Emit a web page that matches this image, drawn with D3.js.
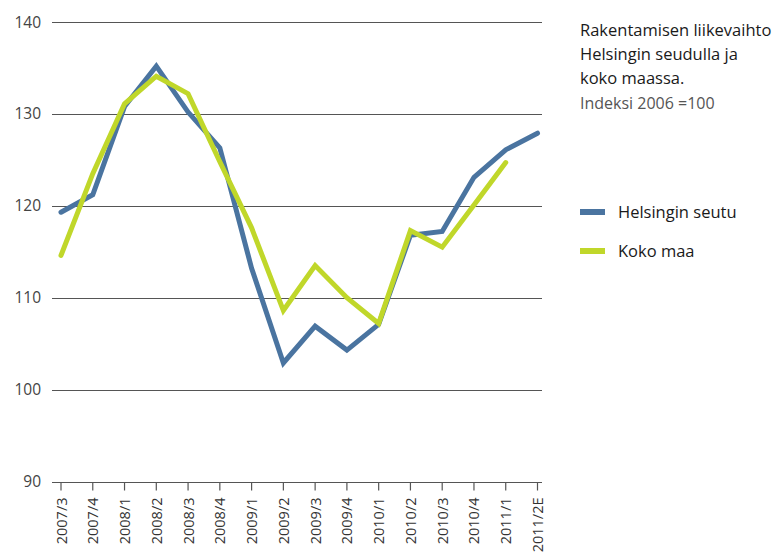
<!DOCTYPE html>
<html>
<head>
<meta charset="utf-8">
<style>
  body { margin: 0; background: #fff; }
  svg text { font-family: "Open Sans", "Noto Sans", sans-serif; }
</style>
</head>
<body>
<svg width="775" height="553"></svg>
<script src="https://cdn.jsdelivr.net/npm/d3@7"></script>
<script>

var categories = ["2007/3", "2007/4", "2008/1", "2008/2", "2008/3", "2008/4", "2009/1", "2009/2",
  "2009/3", "2009/4", "2010/1", "2010/2", "2010/3", "2010/4", "2011/1", "2011/2E"];

var helsinki = [119.3, 121.2, 130.8, 135.2, 130.2, 126.3, 113.2, 102.9,
  106.9, 104.3, 107.1, 116.8, 117.2, 123.1, 126.1, 127.9];

var kokoMaa = [114.6, 123.5, 131.1, 134.1, 132.2, 124.8, 117.6, 108.6,
  113.5, 110.0, 107.2, 117.3, 115.5, 120.1, 124.7, null];

var yTicks = [90, 100, 110, 120, 130, 140];

var titleLines = ["Rakentamisen liikevaihto", "Helsingin seudulla ja", "koko maassa."];
var subtitle = "Indeksi 2006 =100";

var series = [
  {name: "Helsingin seutu", values: helsinki, color: "#4a74a0"},
  {name: "Koko maa", values: kokoMaa, color: "#c0d72a"}
];

var svg = d3.select("svg");

var x = d3.scalePoint().domain(categories).range([61, 537.5]);
var y = d3.scaleLinear().domain([90, 140]).range([481.5, 22]);

var gridLeft = 52, gridRight = 542;

// gridlines
svg.append("g")
  .selectAll("line")
  .data(yTicks)
  .enter().append("line")
    .attr("x1", gridLeft)
    .attr("x2", gridRight)
    .attr("y1", function(d) { return Math.round(y(d)) + 0.5; })
    .attr("y2", function(d) { return Math.round(y(d)) + 0.5; })
    .attr("stroke", "#555")
    .attr("stroke-width", 1.2);

// y labels
svg.append("g")
  .selectAll("text")
  .data(yTicks)
  .enter().append("text")
    .attr("x", 41)
    .attr("y", function(d) { return y(d) + 5.5; })
    .attr("text-anchor", "end")
    .attr("fill", "#444")
    .style("font-size", "15.5px")
    .text(function(d) { return d; });

// x axis ticks + labels
var xAxis = svg.append("g")
  .attr("transform", "translate(0," + (Math.round(y(90)) + 0.5) + ")");

xAxis.selectAll("line")
  .data(categories)
  .enter().append("line")
    .attr("x1", function(d) { return x(d); })
    .attr("x2", function(d) { return x(d); })
    .attr("y1", 0)
    .attr("y2", 8)
    .attr("stroke", "#555")
    .attr("stroke-width", 1.2);

xAxis.selectAll("text")
  .data(categories)
  .enter().append("text")
    .attr("transform", function(d) { return "translate(" + (x(d) + 5.5) + ",15) rotate(-90)"; })
    .attr("text-anchor", "end")
    .attr("fill", "#333")
    .style("font-size", "14.5px")
    .text(function(d) { return d; });

// lines
var line = d3.line()
  .defined(function(d) { return d.v != null; })
  .x(function(d) { return x(d.c); })
  .y(function(d) { return y(d.v); });

svg.append("g")
  .selectAll("path")
  .data(series)
  .enter().append("path")
    .attr("d", function(s) {
      return line(s.values.map(function(v, i) { return {c: categories[i], v: v}; }));
    })
    .attr("fill", "none")
    .attr("stroke", function(s) { return s.color; })
    .attr("stroke-width", 5)
    .attr("stroke-linejoin", "miter")
    .attr("stroke-linecap", "round");

// title
svg.append("g")
  .selectAll("text")
  .data(titleLines)
  .enter().append("text")
    .attr("x", 580)
    .attr("y", function(d, i) { return 36 + i * 24; })
    .attr("fill", "#1a1a1a")
    .style("font-size", "16.5px")
    .text(function(d) { return d; });

svg.append("text")
  .attr("x", 580)
  .attr("y", 109)
  .attr("fill", "#555")
  .style("font-size", "16px")
  .text(subtitle);

// legend
var legend = svg.append("g")
  .selectAll("g")
  .data(series)
  .enter().append("g")
    .attr("transform", function(d, i) { return "translate(580," + (212 + i * 39) + ")"; });

legend.append("rect")
  .attr("x", 0)
  .attr("y", -3)
  .attr("width", 25)
  .attr("height", 6)
  .attr("fill", function(d) { return d.color; });

legend.append("text")
  .attr("x", 38)
  .attr("y", 6)
  .attr("fill", "#1a1a1a")
  .style("font-size", "16.5px")
  .text(function(d) { return d.name; });

</script>
</body>
</html>
